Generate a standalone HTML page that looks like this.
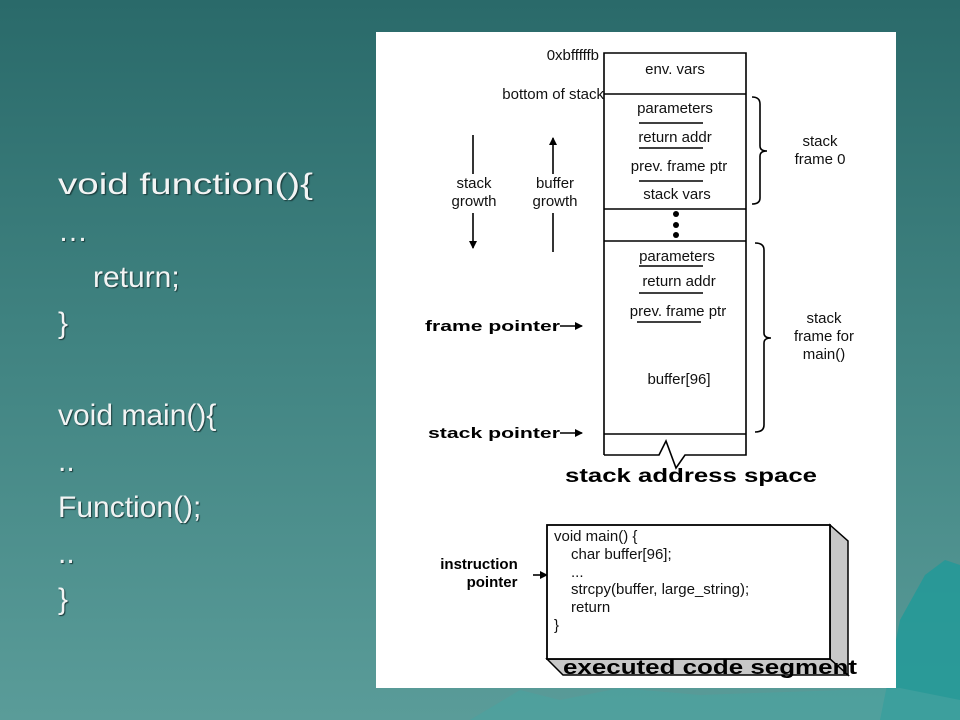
<!DOCTYPE html>
<html><head><meta charset="utf-8"><style>
html,body{margin:0;padding:0;width:960px;height:720px;overflow:hidden}
body{background:linear-gradient(180deg,#2a6a6a 0%,#3f8280 45%,#5a9c99 100%);position:relative}
svg{position:absolute;left:0;top:0}
</style></head><body>
<svg width="960" height="720" viewBox="0 0 960 720" xmlns="http://www.w3.org/2000/svg">
<defs>
<marker id="ah" markerWidth="8" markerHeight="8" refX="7" refY="4" orient="auto" markerUnits="userSpaceOnUse"><path d="M0,0 L8,4 L0,8 z" fill="#000"/></marker>
</defs>
<!-- mountain decor -->
<path d="M900,620 L925,575 L945,560 L960,565 L960,720 L880,720 Z" fill="#1f9a98" opacity="0.8"/>
<path d="M470,720 L520,690 L560,700 L620,688 L700,695 L900,688 L960,700 L960,720 Z" fill="#4aa3a0" opacity="0.6"/>
<!-- left code text -->
<g font-family="Liberation Sans, sans-serif" font-size="30" fill="#f2f4f4" style="text-shadow:1px 1px 1px #1a3a3a">
<text x="58" y="194" textLength="255" lengthAdjust="spacingAndGlyphs">void function(){</text>
<text x="58" y="241">…</text>
<text x="93" y="287">return;</text>
<text x="58" y="333">}</text>
<text x="58" y="425">void main(){</text>
<text x="58" y="471">..</text>
<text x="58" y="517">Function();</text>
<text x="58" y="563">..</text>
<text x="58" y="609">}</text>
</g>
<!-- white panel -->
<rect x="376" y="32" width="520" height="656" fill="#fff"/>
<g stroke="#000" stroke-width="1.6" fill="none">
<path d="M604,455 L604,53 L746,53 L746,455 L685,455 L676,468 L666,441 L659,455 L604,455"/>
<line x1="604" y1="94" x2="746" y2="94"/>
<line x1="604" y1="209" x2="746" y2="209"/>
<line x1="604" y1="241" x2="746" y2="241"/>
<line x1="604" y1="434" x2="746" y2="434"/>
<line x1="639" y1="123" x2="703" y2="123"/>
<line x1="639" y1="148" x2="703" y2="148"/>
<line x1="639" y1="181" x2="703" y2="181"/>
<line x1="639" y1="266" x2="703" y2="266"/>
<line x1="639" y1="293" x2="703" y2="293"/>
<line x1="637" y1="322" x2="701" y2="322"/>
<path d="M752,97 Q760,97 760,104 L760,146 Q760,151 767,151 Q760,151 760,156 L760,198 Q760,204 752,204"/>
<path d="M755,243 Q764,243 764,250 L764,333 Q764,338 771,338 Q764,338 764,343 L764,425 Q764,432 755,432"/>
<line x1="473" y1="135" x2="473" y2="174"/>
<line x1="473" y1="213" x2="473" y2="248" marker-end="url(#ah)"/>
<line x1="553" y1="252" x2="553" y2="213"/>
<line x1="553" y1="174" x2="553" y2="138" marker-end="url(#ah)"/>
<line x1="560" y1="326" x2="582" y2="326" marker-end="url(#ah)"/>
<line x1="560" y1="433" x2="582" y2="433" marker-end="url(#ah)"/>
<line x1="533" y1="575" x2="547" y2="575" marker-end="url(#ah)"/>
</g>
<circle cx="676" cy="214" r="3" fill="#000"/><circle cx="676" cy="225" r="3" fill="#000"/><circle cx="676" cy="235" r="3" fill="#000"/>
<!-- code box 3D -->
<path d="M830,525 L848,541 L848,675 L830,659 Z" fill="#c8c8c8" stroke="#000" stroke-width="1.5"/>
<path d="M547,659 L830,659 L848,675 L563,675 Z" fill="#c8c8c8" stroke="#000" stroke-width="1.5"/>
<rect x="547" y="525" width="283" height="134" fill="#fff" stroke="#000" stroke-width="1.8"/>
<g font-family="Liberation Sans, sans-serif" font-size="15" fill="#111">
<text x="675" y="74" text-anchor="middle">env. vars</text>
<text x="675" y="113" text-anchor="middle">parameters</text>
<text x="675" y="142" text-anchor="middle">return addr</text>
<text x="679" y="171" text-anchor="middle">prev. frame ptr</text>
<text x="677" y="199" text-anchor="middle">stack vars</text>
<text x="677" y="261" text-anchor="middle">parameters</text>
<text x="679" y="286" text-anchor="middle">return addr</text>
<text x="678" y="316" text-anchor="middle">prev. frame ptr</text>
<text x="679" y="384" text-anchor="middle">buffer[96]</text>
<text x="820" y="146" text-anchor="middle">stack</text>
<text x="820" y="164" text-anchor="middle">frame 0</text>
<text x="824" y="323" text-anchor="middle">stack</text>
<text x="824" y="341" text-anchor="middle">frame for</text>
<text x="824" y="359" text-anchor="middle">main()</text>
<text x="599" y="60" text-anchor="end">0xbfffffb</text>
<text x="604" y="99" text-anchor="end">bottom of stack</text>
<text x="474" y="188" text-anchor="middle">stack</text>
<text x="474" y="206" text-anchor="middle">growth</text>
<text x="555" y="188" text-anchor="middle">buffer</text>
<text x="555" y="206" text-anchor="middle">growth</text>
<text x="554" y="541">void main() {</text>
<text x="571" y="559">char buffer[96];</text>
<text x="571" y="577">...</text>
<text x="571" y="594">strcpy(buffer, large_string);</text>
<text x="571" y="612">return</text>
<text x="554" y="630">}</text>
</g>
<g font-family="Liberation Sans, sans-serif" font-weight="bold" fill="#000">
<text x="425" y="331" font-size="15" textLength="135" lengthAdjust="spacingAndGlyphs">frame pointer</text>
<text x="428" y="438" font-size="15" textLength="132" lengthAdjust="spacingAndGlyphs">stack pointer</text>
<text x="479" y="569" font-size="15" text-anchor="middle">instruction</text>
<text x="492" y="587" font-size="15" text-anchor="middle">pointer</text>
<text x="565" y="482" font-size="19" textLength="252" lengthAdjust="spacingAndGlyphs">stack address space</text>
<text x="563" y="674" font-size="20" textLength="294" lengthAdjust="spacingAndGlyphs">executed code segment</text>
</g>
</svg>
</body></html>
